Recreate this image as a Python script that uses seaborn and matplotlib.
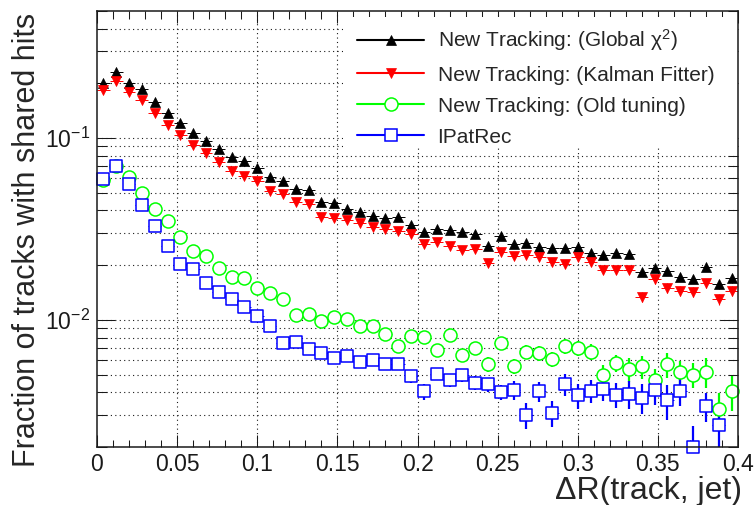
import numpy as np
import pandas as pd
import matplotlib
matplotlib.use("Agg")
import matplotlib.pyplot as plt
import seaborn as sns
from matplotlib.lines import Line2D
from matplotlib.patches import Rectangle
from matplotlib.ticker import FuncFormatter, LogLocator, MultipleLocator, NullFormatter

# 50 bins of width 0.008 in dR(track, jet)
bin_edges = np.linspace(0.0, 0.4, 51)
dr_centers = 0.5 * (bin_edges[:-1] + bin_edges[1:])
half_width = 0.5 * (bin_edges[1] - bin_edges[0])

labels = [
    r"New Tracking: (Global $\mathregular{\chi^{2}}$)",
    "New Tracking: (Kalman Fitter)",
    "New Tracking: (Old tuning)",
    "IPatRec",
]

global_chi2 = [0.200, 0.230, 0.202, 0.186, 0.157, 0.138, 0.121, 0.107, 0.0967, 0.087,
               0.0783, 0.0748, 0.0687, 0.0613, 0.058, 0.0525, 0.0517, 0.0445, 0.0441, 0.0409,
               0.0392, 0.0373, 0.0365, 0.0368, 0.0333, 0.0304, 0.0318, 0.0312, 0.0305, 0.0298,
               0.0254, 0.0288, 0.0263, 0.0264, 0.0252, 0.0248, 0.0248, 0.0252, 0.0234, 0.0227,
               0.0232, 0.0231, 0.0183, 0.0192, 0.0186, 0.0172, 0.0168, 0.0196, 0.0157, 0.0169]
global_chi2_err = [0.004, 0.004, 0.004, 0.004, 0.003, 0.003, 0.003, 0.002, 0.002, 0.002,
                   0.002, 0.002, 0.0015, 0.0015, 0.0015, 0.0013, 0.0013, 0.0012, 0.0012, 0.0011,
                   0.0011, 0.0011, 0.0011, 0.0011, 0.001, 0.001, 0.001, 0.001, 0.001, 0.001,
                   0.001, 0.001, 0.001, 0.001, 0.001, 0.001, 0.001, 0.001, 0.001, 0.001,
                   0.001, 0.001, 0.0009, 0.0009, 0.0009, 0.0009, 0.0009, 0.0009, 0.0009, 0.0009]

kalman = [0.183, 0.205, 0.179, 0.161, 0.138, 0.118, 0.104, 0.0915, 0.0824, 0.074,
          0.0659, 0.062, 0.058, 0.0511, 0.049, 0.0443, 0.0432, 0.0368, 0.0364, 0.0354,
          0.034, 0.0325, 0.0318, 0.031, 0.0297, 0.0263, 0.0269, 0.0255, 0.0242, 0.0245,
          0.0206, 0.0237, 0.0226, 0.0228, 0.0221, 0.0209, 0.0203, 0.0221, 0.0209, 0.0188,
          0.0188, 0.0188, 0.0134, 0.0167, 0.0150, 0.0144, 0.0143, 0.0159, 0.0130, 0.0145]
kalman_err = [0.004, 0.004, 0.004, 0.0035, 0.003, 0.003, 0.0025, 0.002, 0.002, 0.002,
              0.0018, 0.0017, 0.0015, 0.0014, 0.0014, 0.0013, 0.0012, 0.0011, 0.0011, 0.0011,
              0.001, 0.001, 0.001, 0.001, 0.001, 0.001, 0.001, 0.001, 0.001, 0.001,
              0.001, 0.001, 0.001, 0.001, 0.001, 0.001, 0.001, 0.001, 0.001, 0.001,
              0.001, 0.001, 0.0009, 0.0009, 0.0009, 0.0009, 0.0009, 0.0009, 0.0009, 0.0009]

old_tuning = [0.059, 0.070, 0.0613, 0.0501, 0.0407, 0.0348, 0.0284, 0.024, 0.0226, 0.0192,
              0.0173, 0.0171, 0.0149, 0.014, 0.013, 0.0107, 0.0108, 0.0098, 0.0104, 0.0101,
              0.0092, 0.0092, 0.00834, 0.00714, 0.0082, 0.0081, 0.00684, 0.00831, 0.0064, 0.0070,
              0.0057, 0.00744, 0.00558, 0.0067, 0.00656, 0.0061, 0.0072, 0.0070, 0.0067, 0.00499,
              0.0058, 0.00536, 0.00555, 0.00468, 0.0057, 0.00515, 0.0050, 0.0052, 0.00324, 0.00404]
old_tuning_err = [0.0015, 0.0016, 0.0015, 0.0013, 0.0012, 0.0011, 0.001, 0.0009, 0.0009, 0.0008,
                  0.0008, 0.0008, 0.0007, 0.0007, 0.0007, 0.0006, 0.0006, 0.0006, 0.0006, 0.0006,
                  0.0005, 0.0005, 0.0005, 0.0005, 0.0005, 0.0005, 0.0005, 0.0005, 0.0005, 0.0005,
                  0.00055, 0.0006, 0.00055, 0.0006, 0.0006, 0.0006, 0.0007, 0.0007, 0.0007, 0.00065,
                  0.0006, 0.0008, 0.0008, 0.00066, 0.0009, 0.0008, 0.0008, 0.001, 0.0007, 0.0009]

ipatrec = [0.0595, 0.0699, 0.0561, 0.0427, 0.0328, 0.0255, 0.0202, 0.019, 0.016, 0.0143,
           0.0131, 0.0117, 0.0105, 0.0092, 0.00744, 0.0076, 0.0069, 0.00656, 0.00616, 0.0063,
           0.0059, 0.006, 0.0057, 0.0057, 0.00489, 0.00404, 0.00505, 0.00465, 0.00495, 0.00452,
           0.00442, 0.00401, 0.00413, 0.0030, 0.00404, 0.00309, 0.00442, 0.00385, 0.00408, 0.00416,
           0.00387, 0.00392, 0.00372, 0.00409, 0.00361, 0.00404, 0.0020, 0.00334, 0.00263, np.nan]
ipatrec_err = [0.0015, 0.0016, 0.0015, 0.0013, 0.0011, 0.001, 0.0009, 0.0008, 0.0008, 0.0007,
               0.0007, 0.0006, 0.0006, 0.0005, 0.0005, 0.0005, 0.0005, 0.0004, 0.0004, 0.0004,
               0.0004, 0.0004, 0.0004, 0.0004, 0.0004, 0.0004, 0.0004, 0.0004, 0.0004, 0.0004,
               0.0004, 0.0004, 0.0005, 0.0005, 0.0005, 0.0005, 0.0006, 0.0006, 0.0006, 0.0006,
               0.0006, 0.0007, 0.0007, 0.0007, 0.0008, 0.0007, 0.0006, 0.0006, 0.0007, np.nan]

sns.set_theme(style="ticks")
plt.rcParams["font.family"] = ["Liberation Sans", "DejaVu Sans"]
plt.rcParams["mathtext.fontset"] = "custom"
plt.rcParams["mathtext.rm"] = "Liberation Sans"
plt.rcParams["mathtext.it"] = "Liberation Sans:italic"

# (values, errors, colour, marker, marker size [pt], filled, y-error width)
series = [
    (global_chi2, global_chi2_err, "#000000", "^", 7.2, True, 0.8),
    (kalman, kalman_err, "#ff0000", "v", 7.2, True, 0.8),
    (old_tuning, old_tuning_err, "#00ff00", "o", 9.4, False, 1.6),
    (ipatrec, ipatrec_err, "#0000ff", "s", 8.6, False, 1.6),
]

fig = plt.figure(figsize=(7.56, 5.05), dpi=100)
ax = fig.add_axes([0.1283, 0.1149, 0.8479, 0.8633])
ax.set_yscale("log")
ax.set_xlim(0, 0.4)
ax.set_ylim(0.002, 0.5)

# dotted ROOT-style grid, drawn by hand so the legend box can sit above it
grid_kw = dict(color="k", lw=0.8, linestyle=(0, (1, 3)), zorder=0.8)
for gx in np.arange(1, 8) * 0.05:
    ax.axvline(gx, **grid_kw)
for dec in (-3, -2, -1):
    for m in range(1, 10):
        gy = m * 10.0 ** dec
        if 0.002 < gy < 0.5:
            ax.axhline(gy, **grid_kw)

ax.add_patch(Rectangle((0.384, 0.686), 0.616, 0.30, transform=ax.transAxes,
                       facecolor="white", edgecolor="none", zorder=1.5))

handles = []
for vals, errs, color, marker, ms, filled, elw in series:
    df = pd.DataFrame({"dR": dr_centers, "frac": vals, "err": errs})
    ax.errorbar(df["dR"], df["frac"], yerr=df["err"], fmt="none", ecolor=color,
                elinewidth=elw, capsize=0, zorder=3)
    ax.errorbar(df["dR"], df["frac"], xerr=half_width, fmt="none", ecolor=color,
                elinewidth=0.7, capsize=0, zorder=3)
    face = color if filled else "white"
    sns.scatterplot(data=df, x="dR", y="frac", marker=marker, s=ms ** 2, color=color,
                    facecolor=face, edgecolor=color, linewidth=0.5 if filled else 1.1,
                    ax=ax, zorder=4, legend=False, clip_on=False)
    handles.append(Line2D([0], [0], color=color, lw=1.5, marker=marker, ms=ms,
                          mfc=face, mec=color, mew=0.5 if filled else 1.1))

ax.set_xlabel("")
ax.set_ylabel("")

ax.xaxis.set_major_locator(MultipleLocator(0.05))
ax.xaxis.set_minor_locator(MultipleLocator(0.01))
ax.xaxis.set_major_formatter(FuncFormatter(lambda v, p: f"{v:g}"))
ax.yaxis.set_major_locator(LogLocator(base=10))
ax.yaxis.set_minor_locator(LogLocator(base=10, subs=np.arange(2, 10)))
ax.yaxis.set_minor_formatter(NullFormatter())
ax.yaxis.set_major_formatter(
    FuncFormatter(lambda v, p: r"$\mathregular{10^{%d}}$" % round(np.log10(v))))

ax.tick_params(which="both", direction="in", top=True, right=True, width=0.75,
               colors="k", labelcolor="k")
ax.tick_params(axis="y", which="major", length=13, labelsize=16.5, pad=5)
ax.tick_params(axis="y", which="minor", length=7)
ax.tick_params(axis="x", which="major", length=8.6, labelsize=16.5, pad=4)
ax.tick_params(axis="x", which="minor", length=5.4)
for sp in ax.spines.values():
    sp.set_color("k")
    sp.set_linewidth(1.1)
    sp.set_zorder(5)

leg = ax.legend(handles, labels, loc="upper left", bbox_to_anchor=(0.39, 0.986),
                fontsize=15, frameon=False, borderpad=0.5, labelspacing=0.58,
                handlelength=3.2, handletextpad=0.65, borderaxespad=0)
leg.set_zorder(6)

fig.text(742 / 756, 1 - 498.5 / 505, "ΔR(track, jet)", ha="right", va="baseline",
         fontsize=23)
fig.text(35 / 756, 1 - 13 / 505, "Fraction of tracks with shared hits", rotation=90,
         rotation_mode="anchor", ha="right", va="baseline", fontsize=22)

fig.savefig("out.png", dpi=100)
